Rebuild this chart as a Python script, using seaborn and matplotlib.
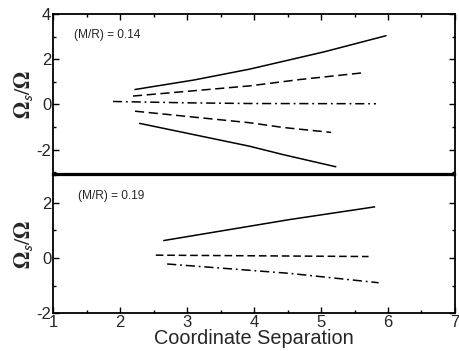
import matplotlib
matplotlib.use("Agg")
import matplotlib.pyplot as plt
import seaborn as sns
import pandas as pd
from matplotlib.ticker import MultipleLocator

sns.set_theme(style="white")
plt.rcParams['font.family'] = ['Liberation Sans', 'DejaVu Sans']
plt.rcParams['mathtext.fontset'] = 'stix'
plt.rcParams['axes.unicode_minus'] = False

# Top panel (M/R = 0.14)
top_solid_up_x = [2.22, 3.10, 3.93, 5.05, 5.97]
top_solid_up_y = [0.66, 1.08, 1.56, 2.33, 3.04]
top_dash_up_x = [2.19, 3.93, 4.68, 5.66]
top_dash_up_y = [0.37, 0.82, 1.10, 1.41]
top_dashdot_x = [1.89, 3.00, 3.93, 5.82]
top_dashdot_y = [0.13, 0.07, 0.04, 0.03]
top_dash_lo_x = [2.22, 3.93, 4.43, 5.15]
top_dash_lo_y = [-0.30, -0.81, -1.02, -1.24]
top_solid_lo_x = [2.29, 3.93, 4.43, 5.22]
top_solid_lo_y = [-0.84, -1.85, -2.22, -2.76]

# Bottom panel (M/R = 0.19)
bot_solid_x = [2.65, 4.53, 5.80]
bot_solid_y = [0.63, 1.39, 1.85]
bot_dash_x = [2.53, 5.71]
bot_dash_y = [0.10, 0.05]
bot_dashdot_x = [2.70, 4.53, 5.86]
bot_dashdot_y = [-0.22, -0.56, -0.90]

x_ticks = [1, 2, 3, 4, 5, 6, 7]

fig = plt.figure(figsize=(4.6, 3.51), dpi=100)
ax1 = fig.add_axes([0.116, 0.503, 0.873, 0.457])
ax2 = fig.add_axes([0.116, 0.108, 0.873, 0.393])

dash = (0, (6, 3))
dash_b = (0, (5, 2.5))
dashdot = (0, (6, 2.5, 1.2, 2.5))

def draw(ax, x, y, ls):
    df = pd.DataFrame({'x': x, 'y': y})
    sns.lineplot(data=df, x='x', y='y', ax=ax, color='black', linestyle=ls,
                 linewidth=1.1, sort=False, estimator=None)

draw(ax1, top_solid_up_x, top_solid_up_y, '-')
draw(ax1, top_dash_up_x, top_dash_up_y, dash)
draw(ax1, top_dashdot_x, top_dashdot_y, dashdot)
draw(ax1, top_dash_lo_x, top_dash_lo_y, dash)
draw(ax1, top_solid_lo_x, top_solid_lo_y, '-')

draw(ax2, bot_solid_x, bot_solid_y, '-')
draw(ax2, bot_dash_x, bot_dash_y, dash_b)
draw(ax2, bot_dashdot_x, bot_dashdot_y, dashdot)

for ax in (ax1, ax2):
    ax.set_xlim(1, 7)
    ax.xaxis.set_major_locator(MultipleLocator(1))
    ax.xaxis.set_minor_locator(MultipleLocator(0.5))
    ax.yaxis.set_major_locator(MultipleLocator(2))
    ax.yaxis.set_minor_locator(MultipleLocator(1))
    for s in ax.spines.values():
        s.set_color('black')
        s.set_linewidth(1.3)
    ax.tick_params(which='major', direction='in', length=4.5, width=1.0,
                   color='black', labelsize=12, pad=1.5)
    ax.tick_params(which='minor', direction='in', length=2.5, width=1.0,
                   color='black')
    ax.set_xlabel('')
    ax.set_ylabel(r'$\mathbf{\Omega}_{\mathsf{s}}/\mathbf{\Omega}$', fontsize=16,
                  labelpad=1)

ax1.set_ylim(-3.1, 4)
ax1.spines['bottom'].set_linewidth(1.6)
ax1.tick_params(which='both', top=True, right=True, bottom=False, left=True,
                labelbottom=False)
ax1.text(1.31, 3.07, '(M/R) = 0.14', fontsize=8.6, va='center', ha='left')

ax2.set_ylim(-2, 3)
ax2.set_yticks([-2, 0, 2])
ax2.spines['top'].set_linewidth(1.6)
ax2.tick_params(which='both', top=False, right=True, bottom=True, left=True)
ax2.set_xticks(x_ticks)
ax2.text(1.37, 2.25, '(M/R) = 0.19', fontsize=8.6, va='center', ha='left')
ax2.set_xlabel('Coordinate Separation', fontsize=14.3, labelpad=-1)

fig.savefig('out.png', dpi=100)
